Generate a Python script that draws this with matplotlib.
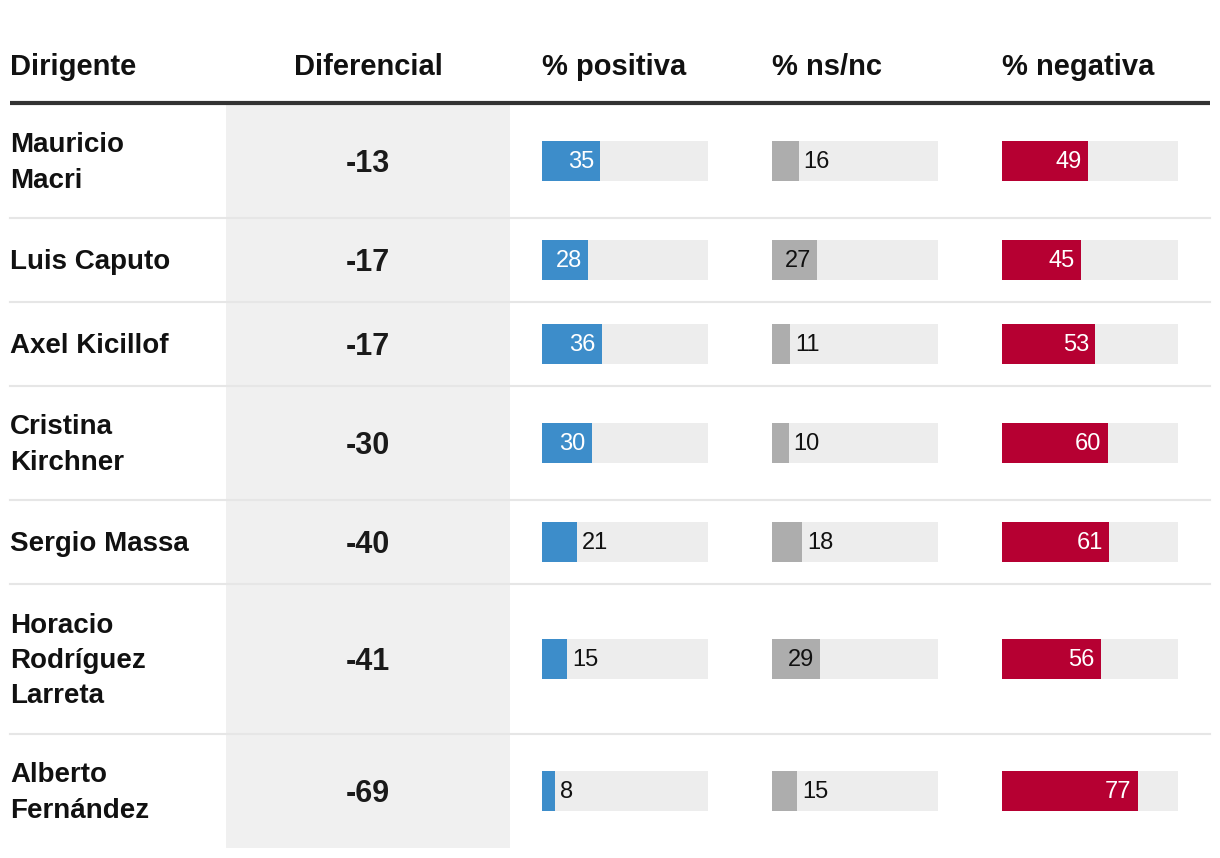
import matplotlib
matplotlib.use('Agg')
import matplotlib.pyplot as plt
from matplotlib.patches import Rectangle
from matplotlib.transforms import offset_copy
from matplotlib import font_manager as fm

# ---- data ----
dirigentes = ["Mauricio\nMacri", "Luis Caputo", "Axel Kicillof", "Cristina\nKirchner",
              "Sergio Massa", "Horacio\nRodríguez\nLarreta", "Alberto\nFernández"]
diferencial = [-13, -17, -17, -30, -40, -41, -69]
positiva = [35, 28, 36, 30, 21, 15, 8]
nsnc = [16, 27, 11, 10, 18, 29, 15]
negativa = [49, 45, 53, 60, 61, 56, 77]
headers = ["Dirigente", "Diferencial", "% positiva", "% ns/nc", "% negativa"]

# ---- fonts ----
LIGHT = fm.FontProperties(family=['Liberation Sans', 'DejaVu Sans'])
BOLDFP = fm.FontProperties(family=['Liberation Sans', 'DejaVu Sans'], weight='bold')

# ---- layout ----
W, H = 1220, 858
row_h = {1: 84, 2: 114, 3: 150}
top = 104

fig = plt.figure(figsize=(W / 100, H / 100), dpi=100)
ax = fig.add_axes([0, 0, 1, 1])
ax.set_xlim(0, W)
ax.set_ylim(H, 0)
ax.axis('off')

centers, bounds = [], [top]
y = top
for n in dirigentes:
    h = row_h[n.count("\n") + 1]
    centers.append(y + h / 2)
    y += h
    bounds.append(y)
bottom = y

ax.add_patch(Rectangle((226, top), 284, bottom - top, color='#f0f0f0', lw=0, zorder=0))
ax.plot([10, 1210], [top - 1, top - 1], color='#333333', lw=3, solid_capstyle='butt', zorder=2)
for b in bounds[1:-1]:
    ax.plot([10, 1210], [b, b], color='#e6e6e6', lw=1.5, zorder=1)

def bold(size):
    p = BOLDFP.copy()
    p.set_size(size)
    return p

def light(size):
    p = LIGHT.copy()
    p.set_size(size)
    return p

hy = 67
ax.text(10, hy, headers[0], fontproperties=bold(21), va='center', ha='left', color='#111111')
ax.text(368, hy, headers[1], fontproperties=bold(21), va='center', ha='center', color='#111111')
col_x = [542, 772, 1002]
col_w = [166, 166, 176]
for i in range(3):
    ax.text(col_x[i], hy, headers[2 + i], fontproperties=bold(21), va='center', ha='left', color='#111111')

for n, d, c in zip(dirigentes, diferencial, centers):
    ax.text(10, c + 2, n, fontproperties=bold(20), va='center', ha='left',
            color='#111111', linespacing=1.45)
    ax.text(368, c + 3, f"{d}", fontproperties=bold(22), va='center', ha='center', color='#1a1a1a')

series = [positiva, nsnc, negativa]
colors = ['#3d8dca', '#adadad', '#b60032']
inside_color = ['white', '#111111', 'white']
for i in range(3):
    bx = fig.add_axes([col_x[i] / W, 0, col_w[i] / W, 1])
    bx.set_xlim(0, 100)
    bx.set_ylim(H, 0)
    bx.axis('off')
    bx.barh(centers, [100] * len(centers), height=40, color='#ededed', lw=0)
    bx.barh(centers, series[i], height=40, color=colors[i], lw=0)
    tin = offset_copy(bx.transData, fig=fig, x=-6, y=0, units='dots')
    tout = offset_copy(bx.transData, fig=fig, x=5, y=0, units='dots')
    for v, c in zip(series[i], centers):
        if v >= 25:
            bx.text(v, c + 1, f"{v}", transform=tin, ha='right', va='center',
                    fontproperties=light(17), color=inside_color[i])
        else:
            bx.text(v, c + 1, f"{v}", transform=tout, ha='left', va='center',
                    fontproperties=light(17), color='#111111')

fig.savefig('out.png', dpi=100, facecolor='white')
